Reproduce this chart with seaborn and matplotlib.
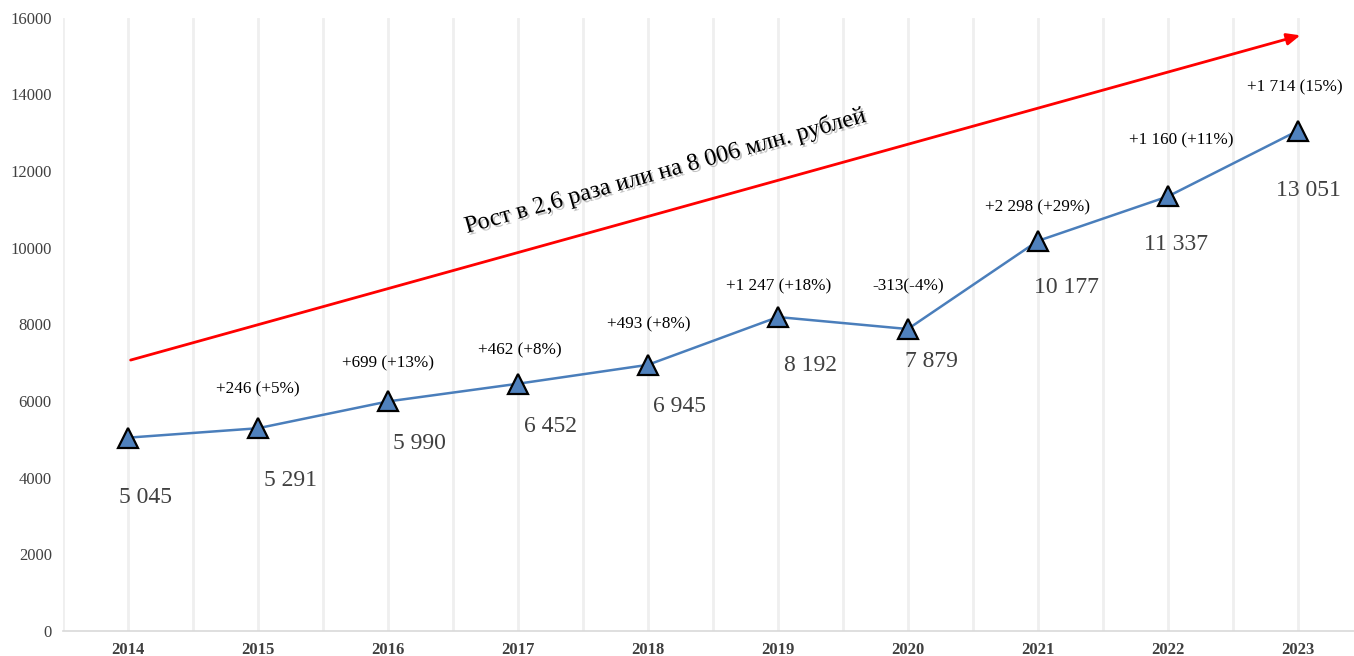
import matplotlib.pyplot as plt
import matplotlib.patheffects as pe
import pandas as pd
import seaborn as sns

years = ["2014", "2015", "2016", "2017", "2018", "2019", "2020", "2021", "2022", "2023"]
values = [5045, 5291, 5990, 6452, 6945, 8192, 7879, 10177, 11337, 13051]
value_labels = ["5 045", "5 291", "5 990", "6 452", "6 945", "8 192", "7 879", "10 177", "11 337", "13 051"]
change_labels = ["", "+246 (+5%)", "+699 (+13%)", "+462 (+8%)", "+493 (+8%)", "+1 247 (+18%)",
                 "-313(-4%)", "+2 298 (+29%)", "+1 160 (+11%)", "+1 714 (15%)"]
y_ticks = [0, 2000, 4000, 6000, 8000, 10000, 12000, 14000, 16000]
trend_text = "Рост в 2,6 раза или на 8 006 млн. рублей"

# label offsets in pixels (layout only)
val_dx = [18, 33, 32, 33, 32, 33, 24, 29, 8, 11]
val_dy = [-60, -52, -42, -43, -42, -48, -32, -47, -48, -60]
chg_dx = [0, 0, 0, 2, 1, 1, 0, 0, 13, -3]
chg_dy = [0, 39, 38, 33, 40, 31, 43, 34, 56, 43]

df = pd.DataFrame({"x": range(len(years)), "value": values})

sns.set_style("white")
plt.rcParams["font.family"] = ["Liberation Serif", "DejaVu Serif"]

fig = plt.figure(figsize=(13.54, 6.56), dpi=100)
ax = fig.add_axes([0.0465, 0.038, 0.96, 0.935])

# vertical grid at categories and between them
for i in range(len(years)):
    ax.axvline(i, color="#efefef", lw=2, zorder=0)
    ax.axvline(i + 0.5, color="#efefef", lw=2, zorder=0)
ax.axvline(-0.5, color="#efefef", lw=2, zorder=0)

sns.lineplot(data=df, x="x", y="value", ax=ax, color="#4a7ebb", lw=1.8, marker="^",
             markersize=15, markerfacecolor="#4f81bd", markeredgecolor="black",
             markeredgewidth=1.6, zorder=3)

for i, v in enumerate(values):
    ax.annotate(value_labels[i], (i, v), xytext=(val_dx[i], val_dy[i]), textcoords="offset pixels",
                ha="center", va="center", fontsize=17, color="#404040")
    if change_labels[i]:
        ax.annotate(change_labels[i], (i, v), xytext=(chg_dx[i], chg_dy[i]), textcoords="offset pixels",
                    ha="center", va="center", fontsize=12.3, color="black")

# red trend arrow
ax.annotate("", xy=(9.04, 15560), xytext=(0, 7050),
            arrowprops=dict(arrowstyle="-|>,head_length=0.8,head_width=0.35", color="#ff0000", lw=2))
ax.text(4.13, 11985, trend_text, rotation=15.6, rotation_mode="anchor", ha="center", va="center",
        fontsize=17.5, color="black",
        path_effects=[pe.withSimplePatchShadow(offset=(1.5, -1.5), shadow_rgbFace="#888888", alpha=0.5)])

ax.set_xlim(-0.5, 9.5)
ax.set_ylim(0, 16000)
ax.set_xticks(range(len(years)))
ax.set_xticklabels(years, fontweight="bold", fontsize=12, color="#404040")
ax.set_yticks(y_ticks)
ax.set_yticklabels([str(t) for t in y_ticks], fontsize=12, color="#404040")
ax.tick_params(axis="both", length=0, pad=8)
ax.set_xlabel("")
ax.set_ylabel("")
for s in ["top", "right", "left"]:
    ax.spines[s].set_visible(False)
ax.spines["bottom"].set_color("#d9d9d9")
ax.spines["bottom"].set_linewidth(1.2)

fig.savefig("out.png", dpi=100)
